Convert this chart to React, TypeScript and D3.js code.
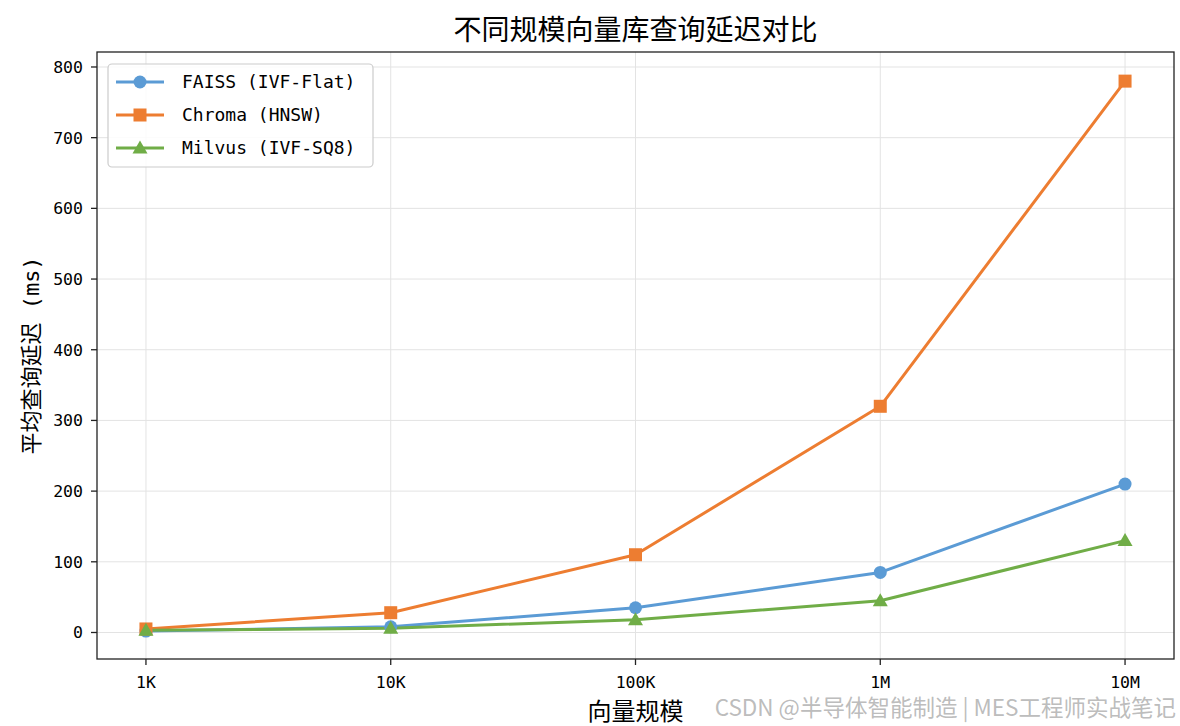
import React from "react";
import * as d3 from "d3";

const categories = ["1K", "10K", "100K", "1M", "10M"];
const faiss = [2, 8, 35, 85, 210];
const chroma = [5, 28, 110, 320, 780];
const milvus = [3, 6, 18, 45, 130];
const yTicks = [0, 100, 200, 300, 400, 500, 600, 700, 800];
const seriesNames = ["FAISS (IVF-Flat)", "Chroma (HNSW)", "Milvus (IVF-SQ8)"];
const colors = ["#5B9BD5", "#ED7D31", "#70AD47"];

const W = 1180, H = 726;
const L = 97, R = 1174, T = 52, B = 659;
const CJK = "'Noto Sans CJK SC', sans-serif";
const MONO = "'DejaVu Sans Mono', 'Noto Sans CJK SC', monospace";

export default function App() {
  const x = d3.scaleLinear().domain([-0.2, 4.2]).range([L, R]);
  const y = d3.scaleLinear().domain([-37.5, 821.2]).range([B, T]);
  const series = [faiss, chroma, milvus];
  const line = d3.line<number>().x((_, i) => x(i)).y((d) => y(d));

  const marker = (k: number, cx: number, cy: number, key: string) => {
    const c = colors[k];
    if (k === 0) return <circle key={key} cx={cx} cy={cy} r={6.5} fill={c} />;
    if (k === 1) return <rect key={key} x={cx - 6.5} y={cy - 6.5} width={13} height={13} fill={c} />;
    return <path key={key} d={`M${cx},${cy - 7.5}L${cx + 7.5},${cy + 5.5}L${cx - 7.5},${cy + 5.5}Z`} fill={c} />;
  };

  return (
    <svg width={W} height={H} style={{ position: "absolute", left: 0, top: 0, background: "#fff" }}>
      <rect width={W} height={H} fill="#fff" />
      {/* grid */}
      {yTicks.map((t) => (
        <line key={"gy" + t} x1={L} x2={R} y1={y(t)} y2={y(t)} stroke="#e3e3e3" strokeWidth={1} />
      ))}
      {categories.map((c, i) => (
        <line key={"gx" + c} x1={x(i)} x2={x(i)} y1={T} y2={B} stroke="#e3e3e3" strokeWidth={1} />
      ))}
      {/* lines */}
      {series.map((s, k) => (
        <path key={"l" + k} d={line(s) || ""} fill="none" stroke={colors[k]} strokeWidth={3} strokeLinejoin="round" />
      ))}
      {series.map((s, k) => s.map((v, i) => marker(k, x(i), y(v), `m${k}-${i}`)))}
      {/* frame */}
      <rect x={L} y={T} width={R - L} height={B - T} fill="none" stroke="#222" strokeWidth={1.3} />
      {/* ticks */}
      {yTicks.map((t) => (
        <g key={"ty" + t}>
          <line x1={L - 6} x2={L} y1={y(t)} y2={y(t)} stroke="#222" strokeWidth={1.3} />
          <text x={L - 14} y={y(t)} dy="0.36em" textAnchor="end" fontSize={16.5} fontFamily={MONO} fill="#000">{t}</text>
        </g>
      ))}
      {categories.map((c, i) => (
        <g key={"tx" + c}>
          <line x1={x(i)} x2={x(i)} y1={B} y2={B + 6} stroke="#222" strokeWidth={1.3} />
          <text x={x(i)} y={688} textAnchor="middle" fontSize={16.5} fontFamily={MONO} fill="#000">{c}</text>
        </g>
      ))}
      {/* title & labels */}
      <text x={(L + R) / 2} y={40} textAnchor="middle" fontSize={28} fontFamily={CJK} fill="#000">不同规模向量库查询延迟对比</text>
      <text x={(L + R) / 2} y={720} textAnchor="middle" fontSize={24} fontFamily={CJK} fill="#000">向量规模</text>
      <text transform={`translate(38.5,${(T + B) / 2}) rotate(-90)`} textAnchor="middle" fontSize={22} fontFamily={MONO} fill="#000">平均查询延迟 (ms)</text>
      {/* legend */}
      <rect x={108} y={64} width={265} height={103} rx={4} fill="#fff" fillOpacity={0.85} stroke="#cccccc" strokeWidth={1.2} />
      {seriesNames.map((n, k) => {
        const ly = 82 + k * 33;
        return (
          <g key={"lg" + k}>
            <line x1={116} x2={164} y1={ly} y2={ly} stroke={colors[k]} strokeWidth={3} />
            {marker(k, 140, ly, "lm" + k)}
            <text x={182} y={ly} dy="0.36em" fontSize={18} fontFamily={MONO} fill="#000">{n}</text>
          </g>
        );
      })}
      {/* watermark */}
      <text x={1176} y={716} textAnchor="end" fontSize={22.5} fontFamily={CJK} fill="#b4b4b4" fillOpacity={0.9}>CSDN @半导体智能制造 | MES工程师实战笔记</text>
    </svg>
  );
}
